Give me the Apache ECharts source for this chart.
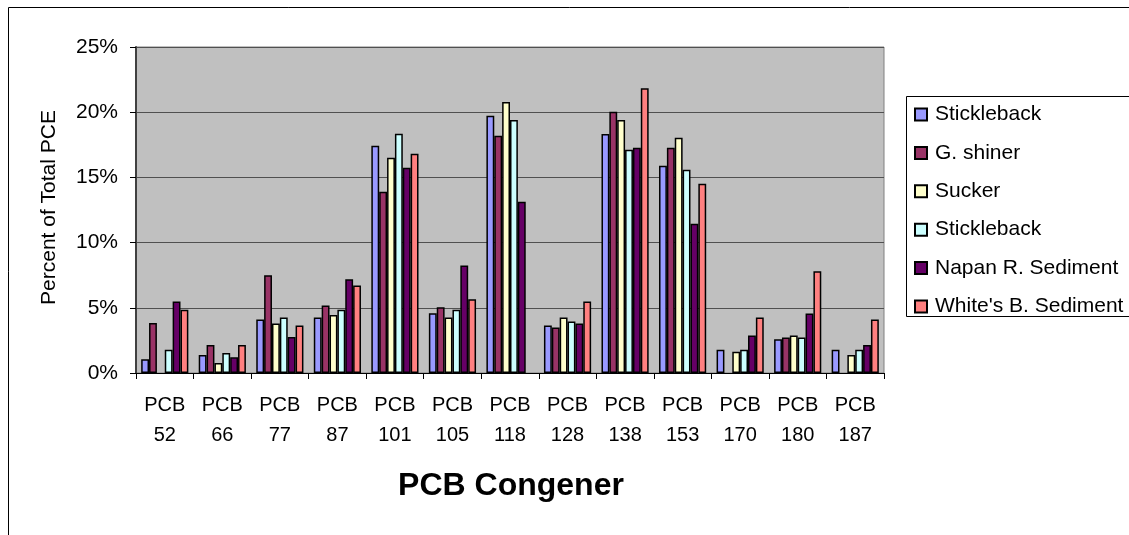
<!DOCTYPE html>
<html>
<head>
<meta charset="utf-8">
<script src="https://cdn.jsdelivr.net/npm/echarts@6/dist/echarts.min.js"></script>
<style>
html,body{margin:0;padding:0;background:#fff;}
#chart{width:1129px;height:535px;}
</style>
</head>
<body>
<div id="chart"></div>
<script>
// Categories (PCB congeners)
const categories = ['PCB 52','PCB 66','PCB 77','PCB 87','PCB 101','PCB 105','PCB 118','PCB 128','PCB 138','PCB 153','PCB 170','PCB 180','PCB 187'];
// Legend labels (two series share the label "Stickleback")
const seriesLabels = ['Stickleback','G. shiner','Sucker','Stickleback','Napan R. Sediment',"White's B. Sediment"];
// Percent of total PCE per series (null = no bar)
const stickleback1 = [1.05, 1.38, 4.11, 4.26, 17.42, 4.59, 19.72, 3.65, 18.32, 15.89, 1.79, 2.58, 1.79];
const goldenShiner = [3.83, 2.14, 7.50, 5.18, 13.90, 5.05, 18.19, 3.49, 20.03, 17.27, null, 2.73, null];
const sucker       = [null, 0.77, 3.80, 4.44, 16.50, 4.26, 20.79, 4.26, 19.41, 18.04, 1.63, 2.88, 1.38];
const stickleback2 = [1.79, 1.53, 4.26, 4.85, 18.34, 4.85, 19.41, 3.95, 17.12, 15.59, 1.79, 2.73, 1.79];
const napanSed     = [5.48, 1.20, 2.76, 7.19, 15.74, 8.24, 13.14, 3.80, 17.27, 11.45, 2.88, 4.57, 2.14];
const whitesSed    = [4.85, 2.14, 3.65, 6.71, 16.81, 5.66, null, 5.48, 21.84, 14.52, 4.26, 7.81, 4.11];
// Y axis ticks
const yMin = 0, yMax = 25, yStep = 5;

const seriesData = [stickleback1, goldenShiner, sucker, stickleback2, napanSed, whitesSed];
const colors = ['#9999FF','#993366','#FFFFCC','#CCFFFF','#660066','#FF8080'];
const FONT = "'Liberation Sans', Arial, sans-serif";
// unique internal names so legend entries do not merge
const internalNames = seriesLabels.map((s, i) => s + '#' + i);

const chart = echarts.init(document.getElementById('chart'));
chart.setOption({
  animation: false,
  textStyle: { fontFamily: FONT, color: '#000' },
  grid: {
    left: 136, top: 47, right: 245, bottom: 162,
    show: true, backgroundColor: '#C0C0C0', borderColor: '#808080', borderWidth: 1
  },
  legend: {
    orient: 'vertical',
    left: 914, top: 104,
    padding: 0,
    itemWidth: 12, itemHeight: 12,
    itemGap: 17.4,
    icon: 'rect',
    selectedMode: false,
    data: internalNames,
    formatter: n => seriesLabels[internalNames.indexOf(n)],
    textStyle: { fontSize: 21, fontFamily: FONT, color: '#000', padding: [0,0,0,3] }
  },
  xAxis: {
    type: 'category',
    data: categories,
    axisLine: { lineStyle: { color: '#000', width: 1 } },
    axisTick: { show: true, length: 6, lineStyle: { color: '#000' } },
    axisLabel: {
      interval: 0, margin: 17, fontSize: 20, lineHeight: 30, color: '#000', fontFamily: FONT,
      formatter: v => v.replace(' ', '\n')
    },
    splitLine: { show: false }
  },
  yAxis: {
    type: 'value',
    min: yMin, max: yMax, interval: yStep,
    axisLine: { show: true, lineStyle: { color: '#404040', width: 2 } },
    axisTick: { show: true, length: 6, lineStyle: { color: '#000' } },
    axisLabel: { margin: 18, fontSize: 21, color: '#000', fontFamily: FONT, formatter: '{value}%' },
    splitLine: { show: true, lineStyle: { color: '#505050', width: 1 } }
  },
  series: seriesData.map((d, i) => ({
    name: internalNames[i],
    type: 'bar',
    data: d,
    barGap: '0%',
    barCategoryGap: '18%',
    itemStyle: { color: colors[i], borderColor: '#000', borderWidth: 1.5 }
  })),
  graphic: [
    { type: 'rect', silent: true, z: -1,
      shape: { x: 8.5, y: 7.5, width: 1300, height: 700 },
      style: { fill: 'none', stroke: '#000', lineWidth: 1 } },
    { type: 'rect', silent: true, z: -1,
      shape: { x: 906.5, y: 96.5, width: 400, height: 220 },
      style: { fill: '#fff', stroke: '#000', lineWidth: 1 } },
    { type: 'text', silent: true,
      x: 511, y: 486,
      style: { text: 'PCB Congener', font: "bold 32px 'Liberation Sans', Arial, sans-serif",
               fill: '#000', textAlign: 'center', textVerticalAlign: 'middle' } },
    { type: 'text', silent: true,
      x: 49, y: 207.5, rotation: Math.PI / 2,
      style: { text: 'Percent of Total PCE', font: "21px 'Liberation Sans', Arial, sans-serif",
               fill: '#000', textAlign: 'center', textVerticalAlign: 'middle' } }
  ]
});
</script>
</body>
</html>
